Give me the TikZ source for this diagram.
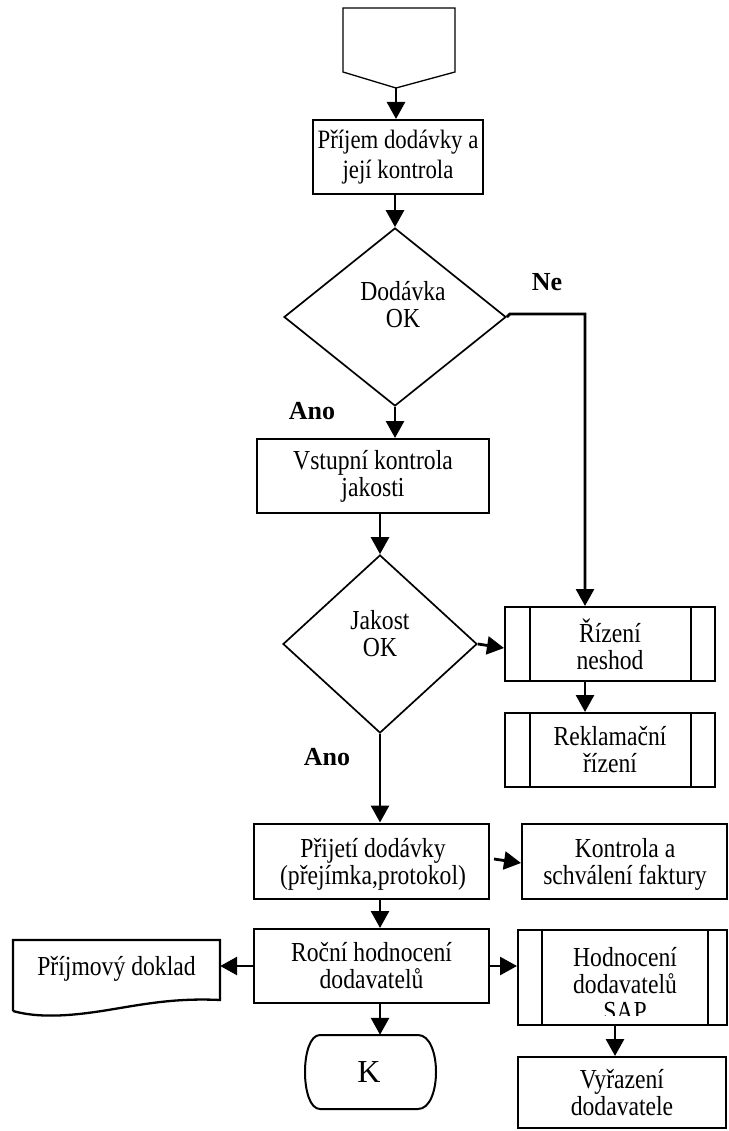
\documentclass[tikz,border=0pt]{standalone}
\usepackage{fontspec}
\setmainfont{Liberation Serif}
\newfontfamily\nfont{Liberation Serif}[FakeStretch=0.86]
\usetikzlibrary{arrows.meta,shapes.geometric}
\begin{document}
\begin{tikzpicture}[x=1pt,y=-1pt,
  box/.style={draw, line width=2pt, inner sep=0pt, align=center,
    font=\nfont\fontsize{27.5}{27}\selectfont},
  txt/.style={inner sep=0pt, align=center, font=\nfont\fontsize{27.5}{27}\selectfont},
  dia/.style={draw, shape=diamond, inner sep=0pt, line width=1.7pt},
  lab/.style={inner sep=0pt, font=\fontsize{26}{30}\selectfont\bfseries},
  arr/.style={line width=2.8pt, -{Triangle[width=18pt,length=17pt]}},
  sub/.style={line width=2pt}]
\useasboundingbox (0,0) rectangle (728,1131);

% start (off-page connector)
\draw[line width=1.3pt] (343,8) -- (455,8) -- (455,72) -- (396,88) -- (343,72) -- cycle;
\coordinate (st) at (396,88);

\node[box, minimum width=170pt, minimum height=74pt, font=\nfont\fontsize{26.5}{30}\selectfont] (b1) at (398,157) {Příjem dodávky a\\její kontrola};

\node[dia, minimum width=222pt, minimum height=178pt] (d1) at (395,317) {};
\node[txt] (d1t) at (403,305) {Dodávka\\OK};

\node[box, minimum width=232pt, minimum height=74pt] (b2) at (373,476) {Vstupní kontrola\\jakosti};

\node[dia, minimum width=194pt, minimum height=178pt] (d2) at (380,644) {};
\node[txt] (d2t) at (380,634) {Jakost\\OK};

\node[box, minimum width=210pt, minimum height=74pt] (rz) at (610,644) {Řízení\\neshod};
\draw[sub] ([xshift=26pt]rz.north west) -- ([xshift=26pt]rz.south west);
\draw[sub] ([xshift=-25pt]rz.north east) -- ([xshift=-25pt]rz.south east);

\node[box, minimum width=210pt, minimum height=74pt] (rk) at (610,750) {Reklamační\\řízení};
\draw[sub] ([xshift=26pt]rk.north west) -- ([xshift=26pt]rk.south west);
\draw[sub] ([xshift=-25pt]rk.north east) -- ([xshift=-25pt]rk.south east);

\node[box, minimum width=235pt, minimum height=75pt] (b3) at (371.5,861) {};
\begin{scope}
  \clip (250,820) rectangle (495,895.5);
  \node[txt] (b3t) at (373,864) {Přijetí dodávky\\(přejímka,protokol)};
\end{scope}

\node[box, minimum width=205pt, minimum height=75pt] (kf) at (624.5,861) {};
\begin{scope}
  \clip (520,820) rectangle (728,895.5);
  \node[txt] (kft) at (625,864) {Kontrola a\\schválení faktury};
\end{scope}

\node[box, minimum width=235pt, minimum height=74pt] (b4) at (371.5,966) {Roční hodnocení\\dodavatelů};

% document shape
\node[txt, minimum width=207pt, minimum height=58pt] (doc) at (116.5,969) {Příjmový doklad};
\draw[line width=2.3pt] (13,1011) -- (13,940) -- (220,940) -- (220,1000)
  .. controls (180,998) and (150,1003) .. (120,1008)
  .. controls (85,1014) and (45,1020) .. (13,1011);

% subprocess Hodnoceni
\node[box, minimum width=209pt, minimum height=95pt] (hd) at (622.5,977.5) {};
\draw[sub] ([xshift=25pt]hd.north west) -- ([xshift=25pt]hd.south west);
\draw[sub] ([xshift=-20pt]hd.north east) -- ([xshift=-20pt]hd.south east);
\begin{scope}
  \clip (515,925) rectangle (728,1015);
  \node[txt] (hdt) at (625,984) {Hodnocení\\dodavatelů\\SAP};
\end{scope}

% terminator K
\node[inner sep=0pt, minimum width=98pt, minimum height=74pt, font=\fontsize{32}{36}\selectfont] (K) at (369,1072) {K};
\draw[line width=2pt] (320,1035) -- (418,1035)
  .. controls (442,1035) and (442,1109) .. (418,1109) -- (320,1109)
  .. controls (300,1109) and (300,1035) .. (320,1035);

\node[box, minimum width=208pt, minimum height=71pt] (vy) at (622,1092.5) {Vyřazení\\dodavatele};

% labels
\node[lab] (ne) at (547,282) {Ne};
\node[lab] (ano1) at (312,411) {Ano};
\node[lab] (ano2) at (327,757) {Ano};

% connectors
\coordinate (nec) at (585,314);
\draw[arr] (st) -- (st |- b1.north);
\draw[arr] (d1.north |- b1.south) -- (d1.north);
\draw[arr] (d1.south) -- (d1.south |- b2.north);
\draw[arr] (d2.north |- b2.south) -- (d2.north);
\draw[arr] (d1.east) -- ++(3,-3) -- (nec) -- (nec |- rz.north);
\draw[arr] (d2.east) -- ([yshift=-4pt]rz.west);
\draw[arr] (nec |- rz.south) -- (nec |- rk.north);
\draw[arr] (d2.south) -- (d2.south |- b3.north);
\draw[arr] ([xshift=4pt,yshift=2pt]b3.east) -- ([yshift=-2pt]kf.west);
\draw[arr] (d2.south |- b3.south) -- (d2.south |- b4.north);
\draw[arr] (b4.west) -- (b4.west -| doc.east);
\draw[arr] (b4.east) -- (b4.east -| hd.west);
\draw[arr] (d2.south |- b4.south) -- (d2.south |- K.north);
\draw[arr] ([xshift=-7.5pt]hd.south) -- ([xshift=-7.5pt]hd.south |- vy.north);
\end{tikzpicture}
\end{document}
